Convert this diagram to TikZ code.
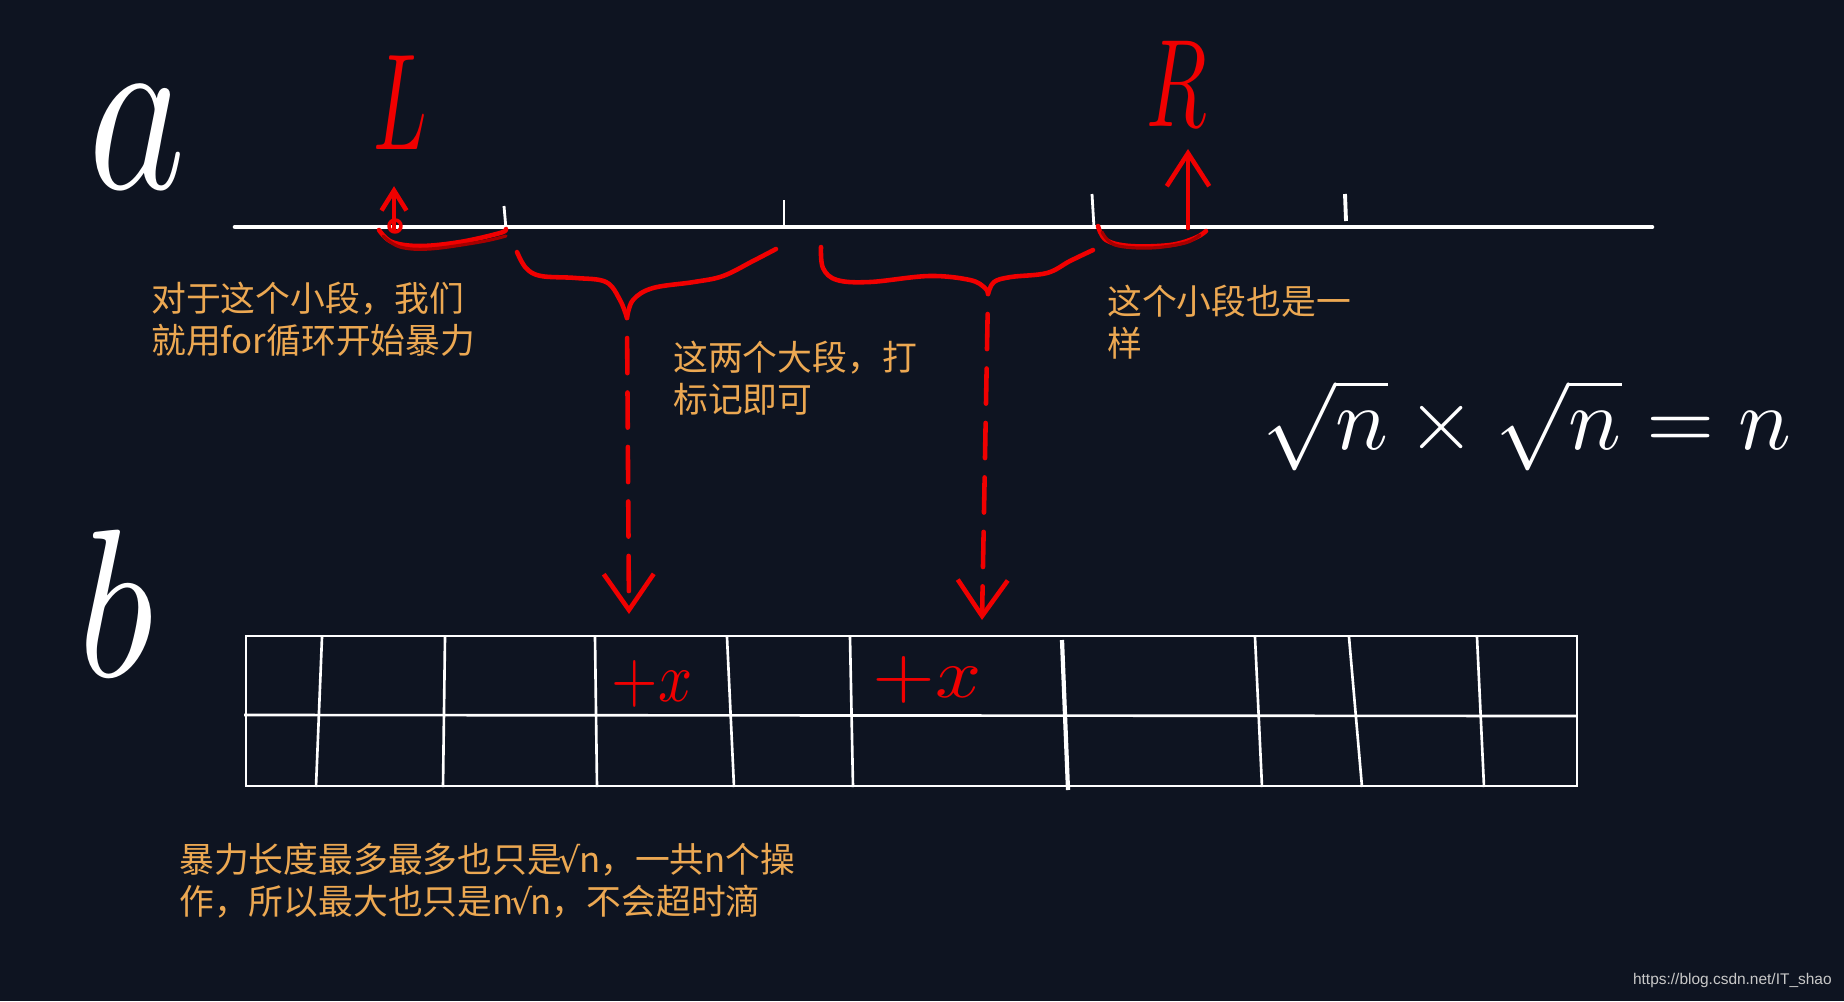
\documentclass[tikz,border=0pt]{standalone}
\usepackage{fontspec}
\usepackage{amsmath}
\usepackage{tikz}
\usetikzlibrary{arrows.meta}
\usepackage{xcolor}

\newfontfamily\cjkfont{Noto Sans CJK SC}
\newfontfamily\markfont{Liberation Sans}
\newfontfamily\rootfont{DejaVu Sans}
\newcommand{\notefont}{\cjkfont\fontsize{19.8}{23.8}\selectfont}
\newcommand{\rt}{{\rootfont\kern-0.1em √\kern-0.05em}}

\definecolor{boardbg}{RGB}{14,20,33}
\definecolor{noteorange}{RGB}{236,168,82}
\definecolor{inkred}{RGB}{240,0,0}
\definecolor{inkdark}{RGB}{165,0,0}
\definecolor{markgray}{RGB}{200,200,200}

\begin{document}
\begin{tikzpicture}[x=0.2mm, y=-0.2mm,
  chalk/.style={white, line width=2.6pt, line cap=round},
  gridline/.style={white, line width=1.5pt},
  ink/.style={inkred, line width=2.6pt, line cap=round, line join=round},
  inkshade/.style={inkdark, line width=1.8pt, line cap=round},
  drop/.style={ink, dash pattern=on 20pt off 11pt, -{Straight Barb[length=0.72cm,width=1.0cm]}},
  hand/.style={text=white, inner sep=0pt},
  handred/.style={text=inkred, inner sep=0pt},
  note/.style={text=noteorange, font=\notefont, align=left, anchor=west, inner sep=0pt}]

% Board
\fill[boardbg] (0,0) rectangle (1844,1001);
\useasboundingbox (0,0) rectangle (1844,1001);

% Hand letters
\node[hand] (alabel) at (137,137) {\scalebox{10.5}[13.5]{$a$}};
\node[hand] (blabel) at (116,603) {\scalebox{10}[12]{$b$}};
\node[handred] (Llabel) at (400,103) {\scalebox{4.5}[7.8]{$L$}};
\node[handred] (Rlabel) at (1177,84) {\scalebox{4.5}[7.1]{$R$}};
\node[hand] (formula) at (1527,425) {\scalebox{5}{$\sqrt{n}\times\sqrt{n}=n$}};

% Array a
\draw[chalk] (235,227) -- (1652,227);
\draw[white, line width=1.6pt] (504,206) -- (506,229);
\draw[white, line width=1.6pt] (784,200) -- (784,226);
\draw[white, line width=1.6pt] (1092,194) -- (1094,228);
\draw[white, line width=2.2pt] (1345,194) -- (1346,221);

% Small pieces at both ends
\draw[ink] plot[smooth, tension=0.6] coordinates {(379,230) (392,242) (420,246) (460,242) (500,233) (506,229)};
\draw[inkshade] plot[smooth, tension=0.6] coordinates {(383,236) (400,247) (430,249) (480,242) (506,236)};
\draw[ink] plot[smooth, tension=0.6] coordinates {(1098,226) (1106,240) (1130,246) (1170,245) (1195,238) (1206,231)};
\draw[inkshade] plot[smooth, tension=0.6] coordinates {(1102,232) (1115,245) (1150,248) (1185,243) (1200,235)};
\draw[ink, line width=2pt] (395,226) circle (0.12cm);

\coordinate (Lfoot) at (394,229);
\coordinate (Rfoot) at (1188,228);
\draw[ink, -{Straight Barb[length=0.4cm,width=0.5cm]}, shorten >=0.72cm] (Lfoot) -- (Lfoot |- Llabel.south);
\draw[ink, -{Straight Barb[length=0.66cm,width=0.85cm]}, shorten >=0.44cm] (Rfoot) -- (Rfoot |- Rlabel.south);

% Two big blocks (braces)
\coordinate (braceA) at (627,318);
\coordinate (braceB) at (988,294);
\draw[ink] plot[smooth, tension=0.6] coordinates {(517,252) (526,268) (541,276) (576,278) (606,282) (620,300) (627,318)};
\draw[ink] plot[smooth, tension=0.6] coordinates {(627,318) (633,300) (653,288) (694,282) (723,276) (753,261) (776,249)};
\draw[ink] plot[smooth, tension=0.6] coordinates {(821,247) (823,268) (837,280) (870,282) (929,276) (970,280) (985,288) (988,294)};
\draw[ink] plot[smooth, tension=0.6] coordinates {(988,294) (994,282) (1011,277) (1047,273) (1070,261) (1093,250)};

% Notes
\node[note] (noteL) at (151,319) {对于这个小段，我们\\就用for循环开始暴力};
\node[note] (noteMid) at (673,378) {这两个大段，打\\标记即可};
\node[note] (noteR) at (1107,322) {这个小段也是一\\样};

% Array b (block tags)
\draw[gridline] (246,636) rectangle (1577,786);
\draw[gridline] (244,715) -- (1577,716);
\foreach \xt/\xb in {322/316, 445/443, 595/597, 727/734, 850/853, 1255/1262, 1349/1362, 1477/1484}
  \draw[gridline] (\xt,637) -- (\xb,787);
\draw[white, line width=2.4pt] (1062,640) -- (1068,790);

\node[handred] (plusA) at (652,684) {\scalebox{3.4}[4.0]{$+x$}};
\node[handred] (plusB) at (927,680) {\scalebox{4.6}[4.0]{$+x$}};

% Drops from the braces
\coordinate (dropA) at (629,614);
\coordinate (dropB) at (982,620);
\draw[drop, shorten <=0.4cm] (braceA) -- (dropA);
\draw[drop, shorten <=0.4cm] (braceB) -- (dropB);

\node[note] (noteCost) at (179,881) {暴力长度最多最多也只是\rt n，一共n个操\\作，所以最大也只是n\rt n，不会超时滴};

\node[text=markgray, font=\markfont\fontsize{8.8}{10}\selectfont, anchor=east, inner sep=0pt] (mark) at (1832,980) {https://blog.csdn.net/IT\_shao};
\end{tikzpicture}
\end{document}
